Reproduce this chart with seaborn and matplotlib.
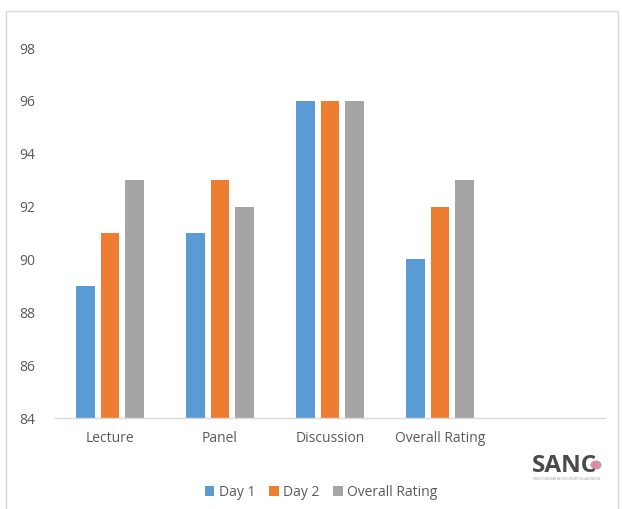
import matplotlib
matplotlib.use("Agg")
import matplotlib.pyplot as plt
from matplotlib.patches import Rectangle, Circle
import seaborn as sns
import pandas as pd

categories = ["Lecture", "Panel", "Discussion", "Overall Rating"]
day1 = [89, 91, 96, 90]
day2 = [91, 93, 96, 92]
overall = [93, 92, 96, 93]
series_names = ["Day 1", "Day 2", "Overall Rating"]
y_ticks = [84, 86, 88, 90, 92, 94, 96, 98]

colors = ["#5B9BD5", "#ED7D31", "#A5A5A5"]
text_color = "#595959"

rows = []
for name, vals in zip(series_names, [day1, day2, overall]):
    for cat, v in zip(categories, vals):
        rows.append({"category": cat, "series": name, "value": v})
df = pd.DataFrame(rows)

sns.set_theme(style="white")
plt.rcParams["font.family"] = ["Open Sans", "DejaVu Sans"]

W, H = 622, 509
fig = plt.figure(figsize=(W / 100, H / 100), dpi=100)
ax = fig.add_axes([55 / W, (H - 418) / H, 550 / W, 370 / H])

sns.barplot(data=df, x="category", y="value", hue="series",
            order=categories + [" "], hue_order=series_names,
            palette=colors, width=0.655, gap=0.21, ax=ax,
            saturation=1, linewidth=0, legend=True)

ax.set_ylim(84, 98)
ax.set_xlim(-0.5, 4.5)
ax.set_yticks(y_ticks)
ax.set_xticks(range(4))
ax.set_xticklabels(categories)
ax.tick_params(axis="both", length=0, colors=text_color, labelsize=10)
ax.tick_params(axis="y", pad=14)
ax.tick_params(axis="x", pad=9)
ax.set_xlabel("")
ax.set_ylabel("")
for side in ["top", "right", "left"]:
    ax.spines[side].set_visible(False)
ax.spines["bottom"].set_color("#D9D9D9")
ax.spines["bottom"].set_linewidth(1)

handles, labels = ax.get_legend_handles_labels()
ax.legend_.remove()
leg = fig.legend(handles, labels, loc="center", bbox_to_anchor=(321 / W, (H - 492) / H),
                 ncol=3, frameon=False, fontsize=10, handlelength=0.7, handleheight=0.7,
                 handletextpad=0.3, columnspacing=1.0)
for t in leg.get_texts():
    t.set_color(text_color)

# chart area border
fig.patches.append(Rectangle((6 / W, -0.01), 612 / W, (H - 11) / H + 0.01,
                             transform=fig.transFigure, fill=False,
                             edgecolor="#D9D9D9", linewidth=1))

# organisation mark
fig.text(532 / W, (H - 466) / H, "SANC", ha="left", va="center", fontsize=17.5,
         fontweight="bold", color="#4A4A4A", family=["Open Sans", "DejaVu Sans"])
fig.patches.append(Circle((596 / W, (H - 465) / H), 5.5 / W, transform=fig.transFigure,
                          facecolor="#D98CA8", edgecolor="none"))
fig.text(567 / W, (H - 478.5) / H, "SWEDISH AFRICAN NEUROSURGERY COLLABORATION",
         ha="center", va="center", fontsize=2.0, color="#9A9A9A")

fig.savefig("out.png", dpi=100)
